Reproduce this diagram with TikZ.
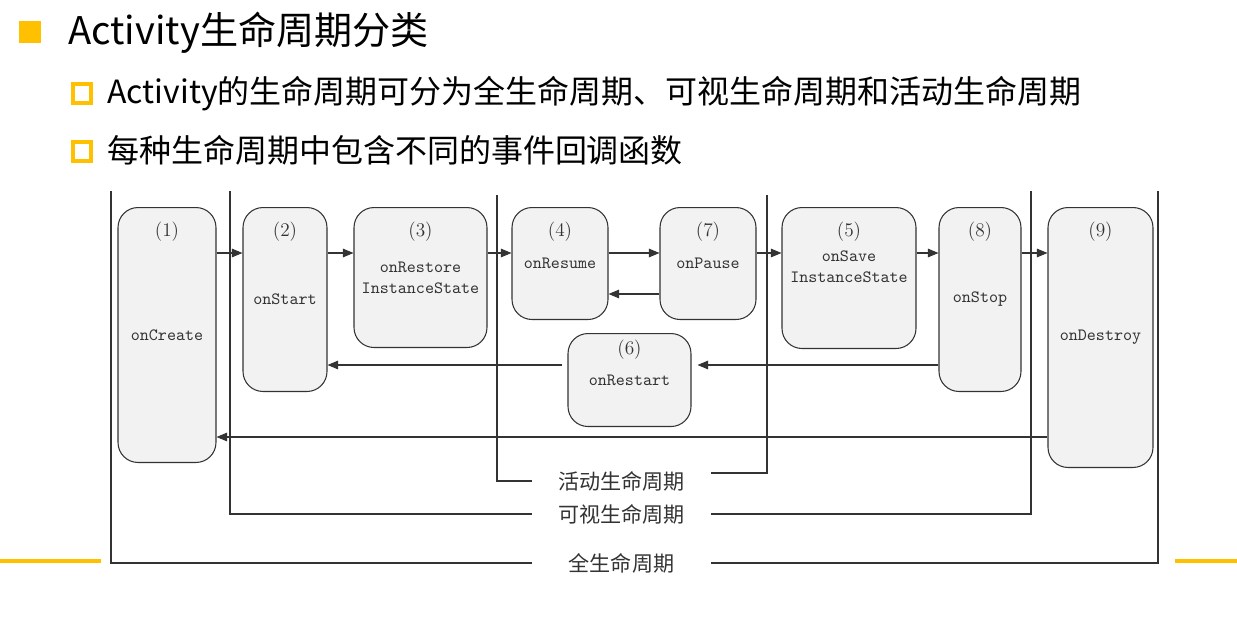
\documentclass[tikz,border=0pt]{standalone}
\usepackage{fontspec}
\newfontfamily\cjk{Noto Sans CJK SC}
\usetikzlibrary{arrows.meta}
\definecolor{amarillo}{HTML}{FFC000}
\definecolor{relleno}{HTML}{F2F2F2}
\definecolor{linea}{HTML}{333333}

\begin{document}
\begin{tikzpicture}[x=0.02cm,y=-0.02cm,>={Triangle[length=0.21cm,width=0.17cm]},
    etapa/.style 2 args={draw=linea,fill=relleno,line width=0.6pt,rounded corners=0.4cm,
        anchor=north,inner sep=0pt,align=center,text=linea,
        minimum width=#1,minimum height=#2,font=\ttfamily\fontsize{9.8}{12}\selectfont},
    num/.style={font=\rmfamily\fontsize{11}{12}\selectfont,text=linea,anchor=center},
    flujo/.style={->,draw=linea,line width=0.6pt},
    tramo/.style={draw=linea,line width=0.6pt},
    ciclo/.style={font=\cjk\fontsize{12}{14}\selectfont,text=linea,inner sep=0pt,
        minimum width=3.58cm},
    cabecera/.style={anchor=base west,inner sep=0pt,font=\cjk\fontsize{#1}{#1}\selectfont}]
    \useasboundingbox (0,0) rectangle (1237,625);

    %%% CABECERA %%%
    \fill[amarillo] (19,21) rectangle (41,43);
    \draw[amarillo,line width=0.08cm] (73,84) rectangle (91,103);
    \draw[amarillo,line width=0.08cm] (73,142) rectangle (91,161);
    \node[cabecera=21.7] (titulo) at (68,45) {Activity生命周期分类};
    \node[cabecera=18.2] (punto1) at (107,104) {Activity的生命周期可分为全生命周期、可视生命周期和活动生命周期};
    \node[cabecera=18.2] (punto2) at (107,162) {每种生命周期中包含不同的事件回调函数};

    % lineas amarillas
    \draw[amarillo,line width=0.08cm] (0,561) -- (101,561);
    \draw[amarillo,line width=0.08cm] (1175,561) -- (1237,561);

    %%% NODOS (metodos) %%%
    \node[etapa={1.96cm}{5.10cm},label={[num,yshift=-0.5cm]north:(1)}] (create) at (167,207) {onCreate};
    \node[etapa={1.68cm}{3.68cm},label={[num,yshift=-0.5cm]north:(2)}] (start) at (285,207) {onStart};
    \node[etapa={2.66cm}{2.80cm},label={[num,yshift=-0.5cm]north:(3)}] (restore) at (420.5,207) {onRestore\\InstanceState};
    \node[etapa={1.92cm}{2.24cm},label={[num,yshift=-0.5cm]north:(4)}] (resume) at (560,207) {onResume};
    \node[etapa={1.92cm}{2.24cm},label={[num,yshift=-0.5cm]north:(7)}] (pause) at (708,207) {onPause};
    \node[etapa={2.68cm}{2.82cm},label={[num,yshift=-0.5cm]north:(5)},
          label={[etapa={0pt}{0pt},draw=none,fill=none,anchor=center,yshift=0.22cm]center:onSave\\InstanceState}] (save) at (849,207) {};
    \node[etapa={1.64cm}{3.68cm},label={[num,yshift=-0.5cm]north:(8)}] (stop) at (980,207) {onStop};
    \node[etapa={2.10cm}{5.20cm},label={[num,yshift=-0.5cm]north:(9)}] (destroy) at (1100.5,207) {onDestroy};
    \node[etapa={2.46cm}{1.86cm},label={[num,yshift=-0.34cm]north:(6)}] (restart) at (629.5,333) {onRestart};

    %%% TRANSICIONES %%%
    \coordinate (fila) at (0,253);
    \coordinate (atras) at (0,294);
    \coordinate (vuelta) at (0,365);
    \coordinate (regreso) at (0,437);
    \draw[flujo] (create.east |- fila) -- (start.west |- fila);
    \draw[flujo] (start.east |- fila) -- (restore.west |- fila);
    \draw[flujo] (restore.east |- fila) -- (resume.west |- fila);
    \draw[flujo] (resume.east |- fila) -- (pause.west |- fila);
    \draw[flujo] (pause.east |- fila) -- (save.west |- fila);
    \draw[flujo] (save.east |- fila) -- (stop.west |- fila);
    \draw[flujo] (stop.east |- fila) -- (destroy.west |- fila);
    \draw[flujo] (pause.west |- atras) -- (resume.east |- atras);
    \draw[flujo,shorten >=0.12cm] (stop.west |- vuelta) -- (restart.east |- vuelta);
    \draw[flujo,shorten <=0.1cm] (restart.west |- vuelta) -- (start.east |- vuelta);
    \draw[flujo] (destroy.west |- regreso) -- (create.east |- regreso);

    %%% PERIODOS %%%
    \coordinate (a1) at (497,195);
    \coordinate (a2) at (767,195);
    \coordinate (v1) at (230,191);
    \coordinate (v2) at (1031,191);
    \coordinate (t1) at (111,191);
    \coordinate (t2) at (1158,191);
    \node[ciclo] (activo) at (621.5,481) {活动生命周期};
    \node[ciclo] (visible) at (621.5,514) {可视生命周期};
    \node[ciclo] (total) at (621.5,563) {全生命周期};
    \draw[tramo] (activo.west) -| (a1);
    \draw[tramo] ([yshift=0.16cm]activo.east) -| (a2);
    \draw[tramo] (visible.west) -| (v1);
    \draw[tramo] (visible.east) -| (v2);
    \draw[tramo] (total.west) -| (t1);
    \draw[tramo] (total.east) -| (t2);
\end{tikzpicture}
\end{document}
